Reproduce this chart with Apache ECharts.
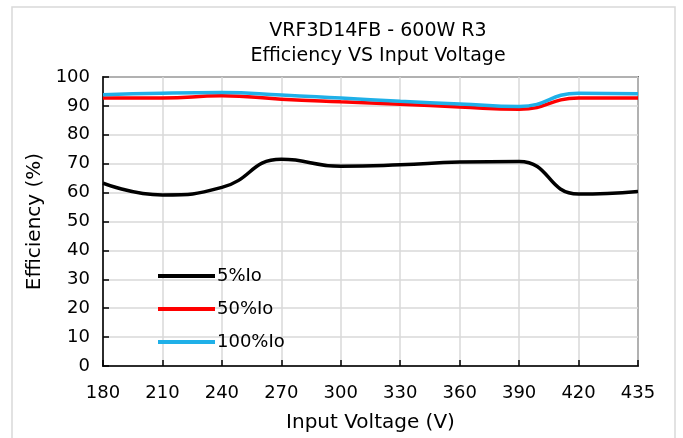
<!DOCTYPE html>
<html>
<head>
<meta charset="utf-8">
<script src="https://cdn.jsdelivr.net/npm/echarts@6/dist/echarts.min.js"></script>
<style>
html,body{margin:0;padding:0;background:#fff;}
#c{width:683px;height:438px;}
</style>
</head>
<body>
<div id="c"></div>
<script>
var categories = ['180','210','240','270','300','330','360','390','420','435'];
var io5 = [63.3, 59.2, 61.8, 71.5, 69.1, 69.6, 70.6, 70.8, 59.5, 60.4];
var io50 = [92.7, 92.7, 93.5, 92.3, 91.4, 90.6, 89.6, 88.8, 92.7, 92.7];
var io100 = [93.9, 94.4, 94.6, 93.8, 92.7, 91.6, 90.7, 89.8, 94.4, 94.2];
var seriesNames = ['5%Io', '50%Io', '100%Io'];
var titleLines = ['VRF3D14FB - 600W R3', 'Efficiency VS Input Voltage'];

var font = 'DejaVu Sans';
var chart = echarts.init(document.getElementById('c'));
function mk(name, data, color) {
  return {
    name: name, type: 'line', data: data, smooth: 0.5,
    symbol: 'none', lineStyle: {color: color, width: 3.5}, itemStyle: {color: color}
  };
}
chart.setOption({
  backgroundColor: '#fff',
  animation: false,
  title: {
    text: titleLines.join('\n'),
    left: 373, top: 14, textAlign: 'center',
    textStyle: {fontFamily: font, fontSize: 19, fontWeight: 'normal', color: '#000', lineHeight: 25}
  },
  graphic: [{
    type: 'rect', shape: {x: 12, y: 7, width: 663, height: 440},
    style: {fill: 'none', stroke: '#d9d9d9', lineWidth: 1.5}, silent: true, z: -1
  }],
  legend: {
    orient: 'vertical', left: 153, top: 262,
    itemWidth: 57, itemHeight: 4, itemGap: 15,
    icon: 'rect',
    textStyle: {fontFamily: font, fontSize: 18, color: '#000', padding: [0,0,0,-3]},
    data: seriesNames
  },
  grid: {left: 103, right: 45, top: 77, bottom: 70, show: true, borderColor: '#000', borderWidth: 1.5},
  xAxis: {
    type: 'category', data: categories, boundaryGap: false,
    name: 'Input Voltage (V)', nameLocation: 'middle', nameGap: 47,
    nameTextStyle: {fontFamily: font, fontSize: 20, color: '#000'},
    axisLine: {lineStyle: {color: '#000', width: 1.5}},
    axisTick: {inside: true, length: 6, lineStyle: {color: '#000', width: 1.5}},
    axisLabel: {fontFamily: font, fontSize: 18, color: '#000', margin: 18},
    splitLine: {show: true, lineStyle: {color: '#d9d9d9', width: 1.5}}
  },
  yAxis: {
    type: 'value', min: 0, max: 100, interval: 10,
    name: 'Efficiency (%)', nameLocation: 'middle', nameGap: 55,
    nameTextStyle: {fontFamily: font, fontSize: 20, color: '#000'},
    axisLine: {show: true, lineStyle: {color: '#000', width: 1.5}},
    axisTick: {show: true, inside: true, length: 6, lineStyle: {color: '#000', width: 1.5}},
    axisLabel: {fontFamily: font, fontSize: 18, color: '#000', margin: 13},
    splitLine: {show: true, lineStyle: {color: '#d9d9d9', width: 1.5}}
  },
  series: [
    mk(seriesNames[0], io5, '#000000'),
    mk(seriesNames[1], io50, '#ff0000'),
    mk(seriesNames[2], io100, '#1fb0e8')
  ]
});
</script>
</body>
</html>
